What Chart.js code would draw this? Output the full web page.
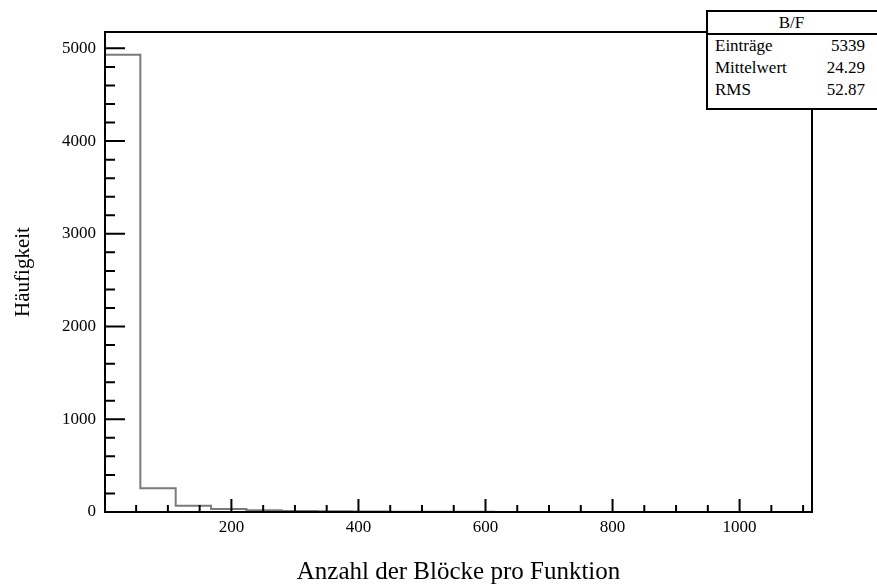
<!DOCTYPE html>
<html>
<head>
<meta charset="utf-8">
<script src="https://cdn.jsdelivr.net/npm/chart.js@4.4.1/dist/chart.umd.min.js"></script>
<style>
  html, body { margin: 0; padding: 0; background: #fff; overflow: hidden; }
  #wrap { position: relative; width: 877px; height: 587px; }
  #stats {
    position: absolute; left: 706px; top: 10px; width: 171px; height: 96px;
    background: #fff; border: 2px solid #000; border-right: none;
    font-family: "Liberation Serif", "DejaVu Serif", serif; font-size: 17px; color: #000;
  }
  #stats .head { height: 21px; line-height: 22px; border-bottom: 2px solid #000; text-align: center; padding-right: 4px; }
  #stats .row { height: 22px; line-height: 22px; padding: 0 14px 0 7px; display: flex; justify-content: space-between; }
</style>
</head>
<body>
<div id="wrap">
  <canvas id="histChart" width="877" height="587"></canvas>
  <div id="stats"></div>
</div>
<script>
// histogram bins: 20 bins from 1 to 1114
const binLow = 1;
const binHigh = 1114;
const binCounts = [4930, 255, 68, 32, 18, 12, 8, 5, 3, 2, 2, 1, 1, 0, 0, 0, 0, 0, 0, 1];

const xTicks = [200, 400, 600, 800, 1000];
const yTicks = [0, 1000, 2000, 3000, 4000, 5000];

const statsTitle = 'B/F';
const statsNames = ['Einträge', 'Mittelwert', 'RMS'];
const statsValues = ['5339', '24.29', '52.87'];

const serif = '"Liberation Serif", "DejaVu Serif", serif';

// step outline points from the bin edges
const binWidth = (binHigh - binLow) / binCounts.length;
const points = [{ x: binLow, y: 0 }];
binCounts.forEach((c, i) => points.push({ x: binLow + i * binWidth, y: c }));
points.push({ x: binHigh, y: 0 });

const yMax = Math.max(...binCounts) * 1.05;

// frame and inward ticks like ROOT draws them
const frameTicks = {
  id: 'frameTicks',
  afterDraw(chart) {
    const { ctx, chartArea: a, scales } = chart;
    const xs = scales.x, ys = scales.y;
    ctx.save();
    ctx.strokeStyle = '#000';
    ctx.lineWidth = 2;
    ctx.strokeRect(a.left, a.top, a.right - a.left, a.bottom - a.top);
    ctx.beginPath();
    for (let v = 0; v <= yMax; v += 200) {
      const py = ys.getPixelForValue(v);
      const len = v % 1000 === 0 ? 20 : 10;
      ctx.moveTo(a.left, py);
      ctx.lineTo(a.left + len, py);
    }
    for (let v = 50; v < binHigh; v += 50) {
      const px = xs.getPixelForValue(v);
      const len = v % 200 === 0 ? 13 : 7;
      ctx.moveTo(px, a.bottom);
      ctx.lineTo(px, a.bottom - len);
    }
    ctx.stroke();
    ctx.restore();
  }
};

const ctx = document.getElementById('histChart').getContext('2d');

const histChart = new Chart(ctx, {
  type: 'line',
  data: {
    datasets: [{
      data: points,
      stepped: 'before',
      borderColor: '#7a7a7a',
      borderWidth: 2,
      pointRadius: 0,
      fill: false
    }]
  },
  options: {
    responsive: false,
    animation: false,
    layout: { padding: { top: 32, right: 65, left: 0, bottom: 0 } },
    plugins: { legend: { display: false }, tooltip: { enabled: false } },
    scales: {
      x: {
        type: 'linear',
        min: binLow,
        max: binHigh,
        grid: { display: false, drawTicks: false },
        border: { display: false },
        afterBuildTicks: s => { s.ticks = xTicks.map(v => ({ value: v })); },
        afterFit: s => { s.height = 75; },
        ticks: { color: '#000', font: { family: serif, size: 17 }, padding: 5, maxRotation: 0, callback: v => String(v) },
        title: {
          display: true,
          text: 'Anzahl der Blöcke pro Funktion',
          color: '#000',
          font: { family: serif, size: 25 },
          padding: { top: 0, bottom: 0 }
        }
      },
      y: {
        min: 0,
        max: yMax,
        grid: { display: false, drawTicks: false },
        border: { display: false },
        afterBuildTicks: s => { s.ticks = yTicks.map(v => ({ value: v })); },
        afterFit: s => { s.width = 105; },
        ticks: { color: '#000', font: { family: serif, size: 17 }, padding: 9, callback: v => String(v) },
        title: {
          display: true,
          text: 'Häufigkeit',
          color: '#000',
          font: { family: serif, size: 21 },
          padding: { top: 11, bottom: 0 }
        }
      }
    }
  },
  plugins: [frameTicks]
});

// stats box
const stats = document.getElementById('stats');
let html = '<div class="head">' + statsTitle + '</div>';
statsNames.forEach((n, i) => {
  html += '<div class="row"><span>' + n + '</span><span>' + statsValues[i] + '</span></div>';
});
stats.innerHTML = html;
</script>
</body>
</html>
